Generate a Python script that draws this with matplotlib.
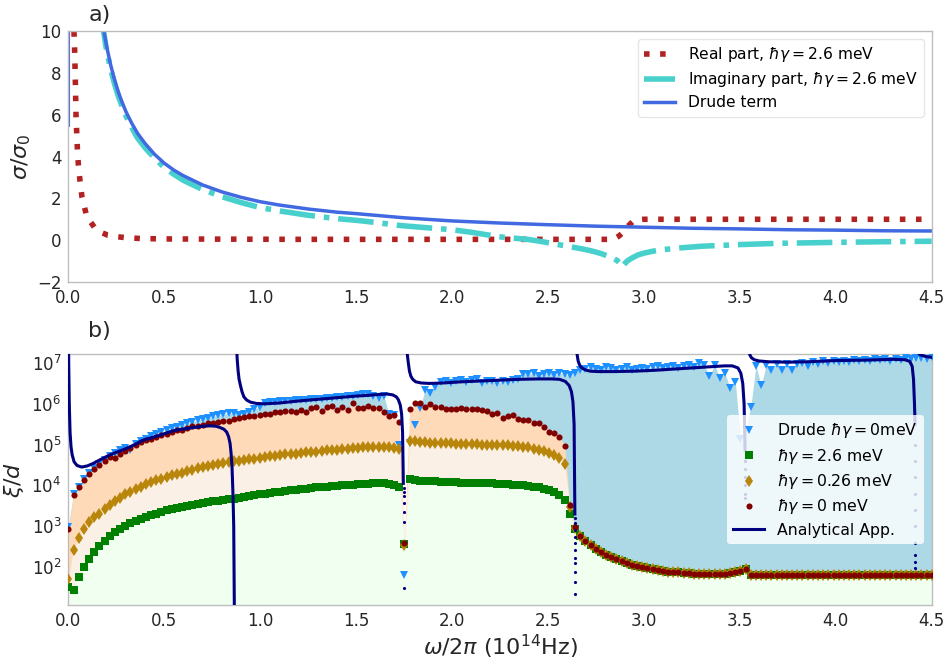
import numpy as np
import matplotlib
matplotlib.use("Agg")
import matplotlib.pyplot as plt

# ---------------- panel a): optical conductivity ----------------
re_freq = [0.020, 0.025, 0.0297, 0.033, 0.0349, 0.0367, 0.0384, 0.0401, 0.0436, 0.0471,
           0.0523, 0.061, 0.0714, 0.0922, 0.11, 0.136, 0.165, 0.205, 0.25, 0.29, 0.373,
           0.5, 0.8, 1.2, 1.6, 2.0, 2.4, 2.7, 2.84, 2.87, 2.90, 2.92, 2.95, 3.0, 3.5,
           4.0, 4.5]
re_sigma = [16.0, 12.5, 9.89, 9.06, 8.29, 7.53, 6.73, 5.95, 5.17, 4.39,
            3.61, 2.82, 2.04, 1.28, 0.95, 0.61, 0.40, 0.24, 0.17, 0.13, 0.08,
            0.06, 0.05, 0.04, 0.04, 0.04, 0.04, 0.04, 0.04, 0.20, 0.45, 0.70, 0.96, 1.0, 1.0,
            1.0, 1.0]

im_freq = [0.17, 0.18, 0.19, 0.2, 0.22, 0.24, 0.26, 0.28, 0.3, 0.33, 0.36, 0.4, 0.45,
           0.5, 0.55, 0.6, 0.7, 0.8, 0.9, 1.0, 1.1, 1.25, 1.4, 1.5, 1.6, 1.73, 1.85,
           2.0, 2.1, 2.18, 2.26, 2.33, 2.4, 2.45, 2.5, 2.56, 2.62, 2.68, 2.72, 2.75,
           2.78, 2.80, 2.82, 2.84, 2.86, 2.87, 2.88, 2.884, 2.89, 2.90, 2.91, 2.92,
           2.94, 2.97, 3.0, 3.05, 3.1, 3.2, 3.3, 3.4, 3.5, 3.7, 3.9, 4.1, 4.3, 4.5]
im_sigma = [10.8, 10.2, 9.6, 9.05, 8.2, 7.5, 6.9, 6.4, 5.95, 5.4, 4.9, 4.42, 3.92,
            3.48, 3.15, 2.86, 2.42, 2.08, 1.80, 1.56, 1.40, 1.19, 1.03, 0.95, 0.85, 0.70, 0.61,
            0.50, 0.38, 0.26, 0.15, 0.09, 0.03, -0.04, -0.12, -0.22, -0.32, -0.42, -0.50, -0.57,
            -0.65, -0.72, -0.79, -0.87, -0.97, -1.06, -1.20, -1.28, -1.22, -1.12, -1.02, -0.95,
            -0.84, -0.70, -0.62, -0.52, -0.45, -0.36, -0.29, -0.25, -0.21, -0.15, -0.12, -0.09,
            -0.07, -0.05]

drude_freq = [0.0, 0.0005, 0.15, 0.17, 0.18, 0.19, 0.2, 0.22, 0.24, 0.26, 0.28, 0.3,
              0.33, 0.36, 0.4, 0.45, 0.5, 0.55, 0.6, 0.7, 0.8, 0.9, 1.0, 1.1, 1.25, 1.4,
              1.5, 1.75, 2.0, 2.25, 2.5, 2.75, 3.0, 3.25, 3.5, 3.75, 4.0, 4.25, 4.5]
drude_sigma = [5.5, 3700.0, 12.3, 10.9, 10.3, 9.75, 9.25, 8.4, 7.7, 7.1, 6.6, 6.15,
               5.6, 5.12, 4.62, 4.1, 3.68, 3.35, 3.08, 2.64, 2.31, 2.05, 1.84, 1.68, 1.49, 1.34,
               1.27, 1.07, 0.92, 0.82, 0.74, 0.67, 0.62, 0.57, 0.54, 0.50, 0.48, 0.45, 0.44]

# ---------------- panel b): xi/d, stored as log10 values ----------------
freq_grid = np.linspace(0.0, 4.5, 168)

# above ~2.67e14 Hz the three damped series coincide
log_xi_high_freq = [
    2.76, 2.63, 2.53, 2.44, 2.37, 2.30, 2.24, 2.19, 2.14, 2.10,
    2.06, 2.03, 2.00, 1.97, 1.95, 1.93, 1.91, 1.89, 1.88, 1.87,
    1.86, 1.85, 1.84, 1.83, 1.83, 1.82, 1.82, 1.83, 1.84, 1.85,
    1.87, 1.90, 1.95,
    1.80, 1.80, 1.80, 1.80, 1.80, 1.80, 1.80, 1.80, 1.80, 1.80,
    1.80, 1.80, 1.80, 1.80, 1.80, 1.80, 1.80, 1.80, 1.80, 1.80,
    1.80, 1.80, 1.80, 1.80, 1.80, 1.80, 1.80, 1.80, 1.80, 1.80,
    1.80, 1.80, 1.80, 1.80, 1.80, 1.80]

log_xi_g26 = [
    1.52, 1.45, 1.76, 1.99, 2.20, 2.37, 2.52, 2.64, 2.76, 2.86,
    2.93, 3.01, 3.07, 3.13, 3.18, 3.22, 3.27, 3.31, 3.35, 3.39,
    3.42, 3.45, 3.48, 3.50, 3.53, 3.55, 3.57, 3.59, 3.61, 3.63,
    3.65, 3.66, 3.68, 3.70, 3.72, 3.74, 3.76, 3.78, 3.80, 3.82,
    3.84, 3.85, 3.87, 3.88, 3.90, 3.91, 3.92, 3.94, 3.95, 3.96,
    3.97, 3.98, 3.99, 4.00, 4.01, 4.02, 4.03, 4.04, 4.04, 4.05,
    4.05, 4.05, 4.04, 4.02, 3.97, 2.56, 4.15, 4.13, 4.12, 4.11,
    4.10, 4.10, 4.09, 4.09, 4.08, 4.08, 4.07, 4.07, 4.07, 4.06,
    4.06, 4.05, 4.05, 4.04, 4.04, 4.03, 4.02, 4.01, 4.00, 3.99,
    3.97, 3.95, 3.92, 3.89, 3.84, 3.77, 3.64, 3.29, 2.93] + log_xi_high_freq

log_xi_g026 = [
    1.70, 2.43, 2.72, 2.93, 3.11, 3.22, 3.31, 3.42, 3.52, 3.61,
    3.69, 3.78, 3.85, 3.91, 3.97, 4.03, 4.08, 4.13, 4.17, 4.21,
    4.25, 4.28, 4.31, 4.35, 4.38, 4.42, 4.45, 4.48, 4.51, 4.53,
    4.55, 4.57, 4.59, 4.60, 4.62, 4.64, 4.66, 4.68, 4.70, 4.71,
    4.73, 4.75, 4.76, 4.77, 4.78, 4.79, 4.81, 4.82, 4.83, 4.84,
    4.86, 4.87, 4.88, 4.89, 4.90, 4.91, 4.92, 4.93, 4.94, 4.95,
    4.95, 4.95, 4.94, 4.92, 4.89, 2.55, 5.10, 5.08, 5.07, 5.06,
    5.05, 5.04, 5.04, 5.03, 5.03, 5.02, 5.02, 5.01, 5.01, 5.01,
    5.00, 5.00, 4.99, 4.99, 4.98, 4.98, 4.97, 4.96, 4.95, 4.93,
    4.90, 4.88, 4.84, 4.80, 4.74, 4.67, 4.53, 3.47, 2.95] + log_xi_high_freq

log_xi_g0 = [
    2.93, 3.76, 3.96, 4.14, 4.28, 4.40, 4.51, 4.60, 4.70, 4.67,
    4.77, 4.85, 4.92, 4.98, 5.06, 5.12, 5.15, 5.19, 5.24, 5.27,
    5.32, 5.35, 5.37, 5.40, 5.45, 5.46, 5.49, 5.53, 5.52, 5.55,
    5.58, 5.59, 5.62, 5.66, 5.68, 5.69, 5.71, 5.73, 5.74, 5.76,
    5.81, 5.79, 5.83, 5.82, 5.81, 5.84, 5.79, 5.89, 5.91, 5.82,
    5.91, 5.95, 5.85, 5.91, 5.86, 6.01, 5.90, 5.90, 5.95, 5.89,
    5.89, 5.81, 5.70, 5.72, 5.56, 2.58, 5.87, 6.01, 6.03, 5.93,
    5.99, 5.93, 5.91, 5.87, 5.87, 5.87, 5.89, 5.87, 5.87, 5.88,
    5.85, 5.83, 5.75, 5.77, 5.66, 5.71, 5.72, 5.62, 5.60, 5.60,
    5.54, 5.54, 5.44, 5.32, 5.28, 5.18, 4.97, 3.52, 2.99] + log_xi_high_freq

log_xi_drude = [
    2.98, 3.80, 3.97, 4.15, 4.30, 4.43, 4.53, 4.63, 4.72, 4.80,
    4.86, 4.92, 4.88, 5.02, 5.08, 5.14, 5.20, 5.25, 5.30, 5.36,
    5.40, 5.44, 5.48, 5.52, 5.56, 5.60, 5.63, 5.66, 5.69, 5.72,
    5.74, 5.77, 5.78, 5.72, 5.76, 5.80, 5.87, 5.93, 6.02, 6.04,
    6.05, 6.06, 6.07, 6.08, 6.09, 6.09, 6.10, 6.11, 6.12, 6.13,
    6.14, 6.15, 6.16, 6.17, 6.18, 6.20, 6.22, 6.25, 6.24, 6.20,
    6.14, 6.20, 5.76, 5.72, 4.99, 1.80, 5.03, 5.48, 5.89, 6.34,
    6.26, 6.42, 6.54, 6.55, 6.50, 6.57, 6.58, 6.53, 6.59, 6.60,
    6.52, 6.57, 6.55, 6.51, 6.56, 6.53, 6.58, 6.62, 6.74, 6.72,
    6.76, 6.68, 6.72, 6.76, 6.70, 6.75, 6.72, 6.70, 6.76, 6.84,
    6.86, 6.90, 6.86, 6.82, 6.90, 6.88, 6.84, 6.86, 6.90, 6.83,
    6.85, 6.88, 6.86, 6.89, 6.92, 6.87, 6.90, 6.93, 6.88, 6.92,
    6.95, 6.90, 6.99, 6.95, 6.67, 6.95, 6.63, 6.75, 6.38, 6.54,
    5.15, 5.36, 5.93, 6.93, 6.46, 6.95, 6.83, 6.98, 6.83, 6.97,
    6.83, 6.97, 7.00, 6.93, 7.02, 6.98, 7.04, 7.00, 7.05, 7.02,
    7.06, 7.03, 7.07, 7.05, 7.08, 7.04, 7.09, 7.07, 7.10, 7.06,
    7.11, 7.08, 7.12, 7.10, 7.12, 7.13, 7.10, 7.15]

# analytical approximation, one branch between consecutive poles
analytic_branches = [
    ([0.0005, 0.002, 0.005, 0.009, 0.014, 0.02, 0.03, 0.045, 0.07, 0.1, 0.13, 0.17,
      0.217, 0.26, 0.304, 0.35, 0.39, 0.435, 0.478, 0.52, 0.565, 0.61, 0.651, 0.70,
      0.74, 0.77, 0.79, 0.81, 0.825, 0.835, 0.843, 0.848, 0.853, 0.858, 0.862, 0.866],
     [8.0, 7.0, 6.0, 5.3, 4.95, 4.75, 4.58, 4.49, 4.45, 4.48, 4.54, 4.64,
      4.75, 4.83, 4.91, 5.01, 5.11, 5.17, 5.23, 5.30, 5.36, 5.39, 5.42, 5.45,
      5.46, 5.45, 5.42, 5.38, 5.31, 5.20, 5.03, 4.80, 4.47, 3.80, 3.00, 0.50]),
    ([0.872, 0.876, 0.88, 0.885, 0.89, 0.897, 0.905, 0.915, 0.93, 0.95, 0.98, 1.02,
      1.1, 1.2, 1.3, 1.4, 1.5, 1.57, 1.62, 1.66, 1.69, 1.71, 1.72, 1.73, 1.737,
      1.742, 1.746],
     [8.0, 7.5, 7.1, 6.8, 6.6, 6.45, 6.3, 6.17, 6.09, 6.04, 6.01, 6.0,
      6.02, 6.07, 6.11, 6.15, 6.19, 6.21, 6.23, 6.24, 6.22, 6.17, 6.10, 5.97, 5.75,
      5.30, 4.05]),
    ([1.760, 1.763, 1.767, 1.772, 1.778, 1.785, 1.795, 1.81, 1.84, 1.88, 1.95, 2.05,
      2.15, 2.25, 2.35, 2.45, 2.52, 2.56, 2.59, 2.61, 2.622, 2.630, 2.636, 2.640],
     [8.0, 7.5, 7.2, 7.0, 6.8, 6.68, 6.6, 6.54, 6.51, 6.50, 6.51, 6.54,
      6.56, 6.58, 6.60, 6.61, 6.61, 6.60, 6.55, 6.45, 6.30, 6.05, 5.5, 3.3]),
    ([2.645, 2.648, 2.652, 2.657, 2.663, 2.67, 2.68, 2.695, 2.72, 2.76, 2.84, 2.95,
      3.05, 3.15, 3.25, 3.35, 3.42, 3.46, 3.49, 3.505, 3.515, 3.522, 3.527],
     [8.0, 7.5, 7.2, 7.05, 6.97, 6.91, 6.87, 6.83, 6.80, 6.79, 6.79, 6.80,
      6.82, 6.85, 6.88, 6.91, 6.93, 6.93, 6.88, 6.75, 6.50, 6.00, 4.87]),
    ([3.536, 3.540, 3.545, 3.552, 3.56, 3.575, 3.6, 3.65, 3.75, 3.85, 4.0, 4.15,
      4.3, 4.36, 4.385, 4.398, 4.405, 4.410, 4.413],
     [8.0, 7.6, 7.35, 7.2, 7.13, 7.08, 7.05, 7.03, 7.02, 7.03, 7.06, 7.07,
      7.09, 7.08, 7.04, 6.92, 6.60, 6.00, 5.50]),
    ([4.418, 4.421, 4.425, 4.43, 4.44, 4.46, 4.48, 4.5],
     [8.0, 7.6, 7.35, 7.25, 7.2, 7.17, 7.15, 7.14]),
]
# sparse samples of the analytical curve where it plunges at the poles
analytic_tail_freq = [1.749, 1.749, 1.749, 1.749, 1.749, 1.749, 1.749,
                      2.641, 2.641, 2.641, 2.641, 2.641, 2.641, 2.641, 2.641, 2.641, 2.641, 2.641,
                      3.528, 3.528, 3.528, 3.528, 3.528, 3.528,
                      4.414, 4.414, 4.414, 4.414, 4.414, 4.414, 4.414, 4.414, 4.414, 4.414]
analytic_tail_log = [3.93, 3.85, 3.73, 3.56, 3.36, 3.11, 1.48,
                     3.19, 3.07, 2.91, 2.74, 2.58, 2.42, 2.21, 2.09, 1.89, 1.64, 1.35,
                     4.60, 4.40, 4.20, 4.00, 3.80, 3.70,
                     5.00, 4.60, 4.20, 3.80, 3.40, 3.00, 2.60, 2.30, 2.13, 1.97]

# ---------------- figure ----------------
plt.rcParams['font.family'] = ['DejaVu Sans']
plt.rcParams['mathtext.fontset'] = 'dejavusans'
text_col = '#262626'
spine_col = '#bdbdbd'

fig = plt.figure(figsize=(9.53, 6.6), dpi=100)
ax1 = fig.add_axes([0.0717, 0.5727, 0.906, 0.3803])
ax2 = fig.add_axes([0.0717, 0.0833, 0.906, 0.3803])

for ax in (ax1, ax2):
    for s in ax.spines.values():
        s.set_color(spine_col)
        s.set_linewidth(1.0)
    ax.tick_params(length=0, labelsize=12, labelcolor=text_col, pad=5)

# panel a
ax1.plot(re_freq, re_sigma, color='#b22222', lw=4, linestyle=(0, (1, 1.9)),
         label=r'Real part, $\hbar\gamma = 2.6$ meV')
ax1.plot(im_freq, im_sigma, color='#48d1cc', lw=4, linestyle='-.',
         label=r'Imaginary part, $\hbar\gamma = 2.6$ meV')
ax1.plot(drude_freq, drude_sigma, color='#4169e1', lw=2.5, label='Drude term')
ax1.set_xlim(0, 4.5)
ax1.set_ylim(-2, 10)
ax1.set_xticks(np.arange(0, 4.51, 0.5))
ax1.set_yticks(np.arange(-2, 10.1, 2))
ax1.set_ylabel(r'$\sigma/\sigma_0$', fontsize=16, color=text_col, labelpad=3)
ax1.text(0.023, 1.025, 'a)', transform=ax1.transAxes, fontsize=16, color=text_col,
         va='bottom', ha='left')
ax1.legend(loc='upper right', fontsize=11.2, labelspacing=0.4, framealpha=0.8,
           edgecolor='#e0e0e0')

# panel b
x = freq_grid
ymin = 1.0
drude_vals = 10 ** np.array(log_xi_drude)
g26_vals = 10 ** np.array(log_xi_g26)
g026_vals = 10 ** np.array(log_xi_g026)
g0_vals = 10 ** np.array(log_xi_g0)

ax2.fill_between(x, drude_vals, ymin, color='#add8e6', lw=0, zorder=1)
ax2.fill_between(x, g0_vals, ymin, color='#ffdab9', lw=0, zorder=1.1)
ax2.fill_between(x, g026_vals, ymin, color='#faf0e6', lw=0, zorder=1.2)
ax2.fill_between(x, g26_vals, ymin, color='#f0fff0', lw=0, zorder=1.3)

ax2.plot(x, drude_vals, 'v', color='#1e90ff', ms=6, mew=0, zorder=3,
         label=r'Drude $\hbar\gamma = 0$meV')
ax2.plot(x, g26_vals, 's', color='#008000', ms=6.3, mew=0, zorder=3.1,
         label=r'$\hbar\gamma = 2.6$ meV')
ax2.plot(x, g026_vals, 'd', color='#b8860b', ms=6.2, mew=0, zorder=3.2,
         label=r'$\hbar\gamma = 0.26$ meV')
ax2.plot(x, g0_vals, 'o', color='#800000', ms=4.4, mew=0, zorder=3.3,
         label=r'$\hbar\gamma = 0$ meV')

bx, by = [], []
for fx, fl in analytic_branches:
    bx += list(fx) + [np.nan]
    by += list(10 ** np.array(fl)) + [np.nan]
ax2.plot(bx, by, color='#000080', lw=2.2, zorder=4, label='Analytical App.')
ax2.plot(analytic_tail_freq, 10 ** np.array(analytic_tail_log), '.', color='#000080',
         ms=2.5, zorder=4)

ax2.set_yscale('log')
ax2.set_xlim(0, 4.5)
ax2.set_ylim(10 ** 1.07, 10 ** 7.22)
ax2.set_xticks(np.arange(0, 4.51, 0.5))
ax2.set_yticks([1e2, 1e3, 1e4, 1e5, 1e6, 1e7])
ax2.minorticks_off()
ax2.set_ylabel(r'$\xi/d$', fontsize=16, color=text_col, labelpad=4)
ax2.set_xlabel(r'$\omega/2\pi$ (10$^{14}$Hz)', fontsize=16, color=text_col, labelpad=2)
ax2.text(0.023, 1.05, 'b)', transform=ax2.transAxes, fontsize=16, color=text_col,
         va='bottom', ha='left')
leg2 = ax2.legend(loc='center right', fontsize=11.3, labelspacing=0.4, framealpha=0.8,
                  edgecolor='none')
leg2.set_zorder(10)

fig.savefig('out.png', dpi=100)
